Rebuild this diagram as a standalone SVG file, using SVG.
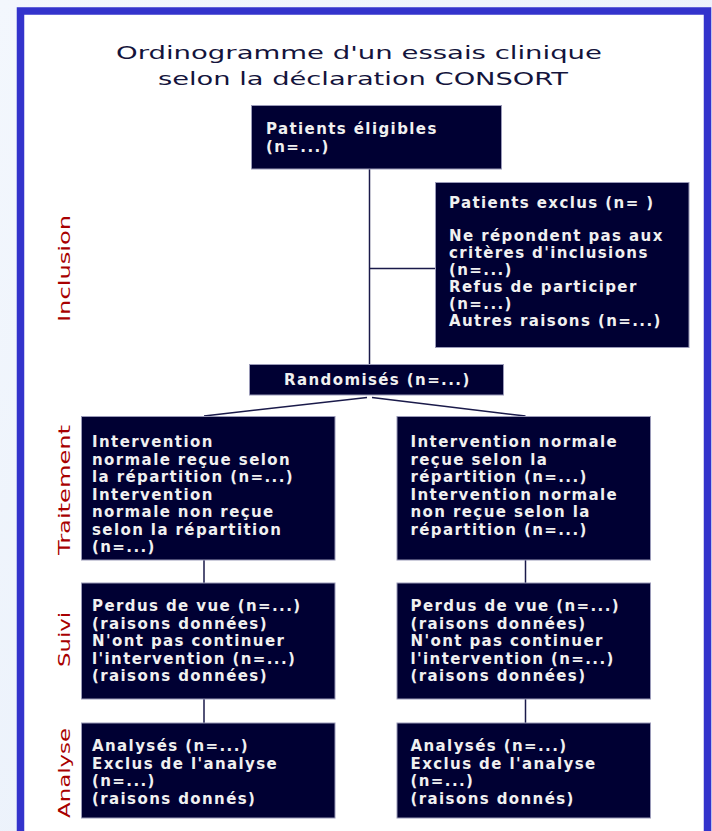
<svg xmlns="http://www.w3.org/2000/svg" width="712" height="831" viewBox="0 0 712 831">
<defs>
<linearGradient id="bg" x1="0" y1="0" x2="1" y2="1">
<stop offset="0" stop-color="#f3f7fd"/>
<stop offset="1" stop-color="#e6eefa"/>
</linearGradient>
<style>
.box{fill:#000033;stroke:#9a9ab8;stroke-width:1}
.t{font-family:"DejaVu Sans",Verdana,sans-serif;font-weight:bold;font-size:15px;letter-spacing:1.4px;fill:#f0f0f0}
.title{font-family:"DejaVu Sans",Verdana,sans-serif;font-size:18px;fill:#14143c}
.side{font-family:"DejaVu Sans",Verdana,sans-serif;font-size:16px;fill:#a80000}
.c{fill:none;stroke:#1a1a4a;stroke-width:1.5}
</style>
</defs>
<rect x="0" y="0" width="712" height="831" fill="url(#bg)"/>
<rect x="20.5" y="11" width="687" height="830" fill="#ffffff" stroke="#3333cc" stroke-width="7.5"/>

<g id="title">
<text class="title" x="116" y="59" textLength="486" lengthAdjust="spacingAndGlyphs">Ordinogramme d'un essais clinique</text>
<text class="title" x="158" y="85" textLength="410" lengthAdjust="spacingAndGlyphs">selon la déclaration CONSORT</text>
</g>

<g id="labels">
<text class="side" transform="translate(70,322) rotate(-90)" textLength="107" lengthAdjust="spacingAndGlyphs">Inclusion</text>
<text class="side" transform="translate(70,555) rotate(-90)" textLength="130" lengthAdjust="spacingAndGlyphs">Traitement</text>
<text class="side" transform="translate(70,667) rotate(-90)" textLength="55" lengthAdjust="spacingAndGlyphs">Suivi</text>
<text class="side" transform="translate(70,818) rotate(-90)" textLength="90" lengthAdjust="spacingAndGlyphs">Analyse</text>
</g>

<g id="connectors">
<line class="c" x1="369.5" y1="169" x2="369.5" y2="364"/>
<line class="c" x1="369.5" y1="268.5" x2="435" y2="268.5"/>
<polyline class="c" points="204,416 367,397.5"/>
<polyline class="c" points="372,397.5 525.5,416"/>
<line class="c" x1="204" y1="560" x2="204" y2="583"/>
<line class="c" x1="525.5" y1="560" x2="525.5" y2="583"/>
<line class="c" x1="204" y1="699" x2="204" y2="723"/>
<line class="c" x1="525.5" y1="699" x2="525.5" y2="723"/>
</g>

<g id="eligibles">
<rect class="box" x="251.5" y="105.5" width="250" height="63.5"/>
<text class="t" x="266" y="134">Patients éligibles</text>
<text class="t" x="266" y="152">(n=...)</text>
</g>

<g id="exclus">
<rect class="box" x="435.5" y="182.5" width="253.5" height="165"/>
<text class="t" x="449" y="208">Patients exclus (n= )</text>
<text class="t" x="449" y="241">Ne répondent pas aux</text>
<text class="t" x="449" y="258">critères d'inclusions</text>
<text class="t" x="449" y="275">(n=...)</text>
<text class="t" x="449" y="292">Refus de participer</text>
<text class="t" x="449" y="309">(n=...)</text>
<text class="t" x="449" y="326">Autres raisons (n=...)</text>
</g>

<g id="randomises">
<rect class="box" x="249.5" y="364.5" width="254" height="30.5"/>
<text class="t" x="284" y="385">Randomisés (n=...)</text>
</g>

<g id="traitement-gauche">
<rect class="box" x="81.5" y="416.5" width="253.5" height="143.5"/>
<text class="t" x="92" y="447">Intervention</text>
<text class="t" x="92" y="464.5">normale reçue selon</text>
<text class="t" x="92" y="482">la répartition (n=...)</text>
<text class="t" x="92" y="499.5">Intervention</text>
<text class="t" x="92" y="517">normale non reçue</text>
<text class="t" x="92" y="534.5">selon la répartition</text>
<text class="t" x="92" y="552">(n=...)</text>
</g>

<g id="traitement-droite">
<rect class="box" x="397" y="416.5" width="253.5" height="143.5"/>
<text class="t" x="410.5" y="447">Intervention normale</text>
<text class="t" x="410.5" y="464.5">reçue selon la</text>
<text class="t" x="410.5" y="482">répartition (n=...)</text>
<text class="t" x="410.5" y="499.5">Intervention normale</text>
<text class="t" x="410.5" y="517">non reçue selon la</text>
<text class="t" x="410.5" y="534.5">répartition (n=...)</text>
</g>

<g id="suivi-gauche">
<rect class="box" x="81.5" y="583" width="253.5" height="116"/>
<text class="t" x="92" y="611">Perdus de vue (n=...)</text>
<text class="t" x="92" y="628.5">(raisons données)</text>
<text class="t" x="92" y="646">N'ont pas continuer</text>
<text class="t" x="92" y="663.5">l'intervention (n=...)</text>
<text class="t" x="92" y="681">(raisons données)</text>
</g>

<g id="suivi-droite">
<rect class="box" x="397" y="583" width="253.5" height="116"/>
<text class="t" x="410.5" y="611">Perdus de vue (n=...)</text>
<text class="t" x="410.5" y="628.5">(raisons données)</text>
<text class="t" x="410.5" y="646">N'ont pas continuer</text>
<text class="t" x="410.5" y="663.5">l'intervention (n=...)</text>
<text class="t" x="410.5" y="681">(raisons données)</text>
</g>

<g id="analyse-gauche">
<rect class="box" x="81.5" y="723" width="253.5" height="95"/>
<text class="t" x="92" y="751">Analysés (n=...)</text>
<text class="t" x="92" y="768.5">Exclus de l'analyse</text>
<text class="t" x="92" y="786">(n=...)</text>
<text class="t" x="92" y="803.5">(raisons donnés)</text>
</g>

<g id="analyse-droite">
<rect class="box" x="397" y="723" width="253.5" height="95"/>
<text class="t" x="410.5" y="751">Analysés (n=...)</text>
<text class="t" x="410.5" y="768.5">Exclus de l'analyse</text>
<text class="t" x="410.5" y="786">(n=...)</text>
<text class="t" x="410.5" y="803.5">(raisons donnés)</text>
</g>
</svg>
